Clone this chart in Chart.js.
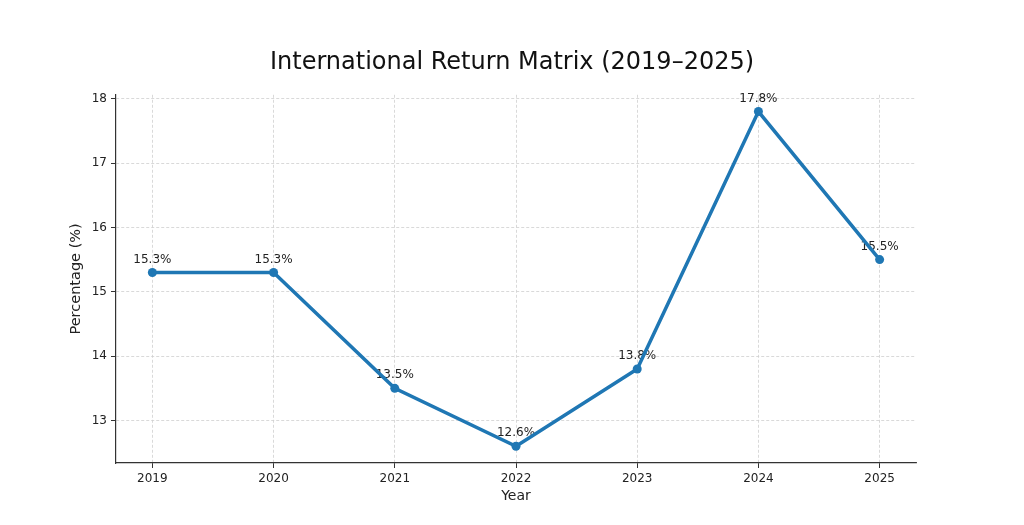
<!DOCTYPE html>
<html>
<head>
<meta charset="utf-8">
<script src="https://cdn.jsdelivr.net/npm/chart.js@4/dist/chart.umd.min.js"></script>
<style>
html,body{margin:0;padding:0;background:#fff;}
#wrap{width:1024px;height:525px;}
</style>
</head>
<body>
<div id="wrap"><canvas id="c" width="1024" height="525"></canvas></div>
<script>
const years = [2019, 2020, 2021, 2022, 2023, 2024, 2025];
const returns = [15.3, 15.3, 13.5, 12.6, 13.8, 17.8, 15.5];
const yTickValues = [13, 14, 15, 16, 17, 18];
const titleText = 'International Return Matrix (2019–2025)';
const xLabel = 'Year';
const yLabel = 'Percentage (%)';

const FONT = '"DejaVu Sans", sans-serif';

const labelPlugin = {
  id: 'pointLabels',
  beforeDatasetsDraw(chart) {
    const ctx = chart.ctx;
    const meta = chart.getDatasetMeta(0);
    ctx.save();
    ctx.font = '12px ' + FONT;
    ctx.fillStyle = '#222';
    ctx.textAlign = 'center';
    ctx.textBaseline = 'middle';
    meta.data.forEach((pt, i) => {
      ctx.fillText(returns[i].toFixed(1) + '%', pt.x, pt.y - 13);
    });
    ctx.restore();
  }
};

new Chart(document.getElementById('c'), {
  type: 'line',
  data: {
    datasets: [{
      data: years.map((y, i) => ({x: y, y: returns[i]})),
      borderColor: '#1f77b4',
      backgroundColor: '#1f77b4',
      borderWidth: 3.5,
      pointRadius: 4.5,
      pointHoverRadius: 4.5,
      pointBackgroundColor: '#1f77b4',
      pointBorderWidth: 0,
      tension: 0,
      fill: false
    }]
  },
  options: {
    responsive: false,
    animation: false,
    events: [],
    layout: {padding: {left: 0, right: 0, top: 0, bottom: 0}},
    plugins: {
      legend: {display: false},
      tooltip: {enabled: false},
      title: {
        display: true,
        text: titleText,
        color: '#111',
        font: {family: FONT, size: 24, weight: 'normal', lineHeight: 1.2},
        padding: {top: 48, bottom: 18}
      }
    },
    scales: {
      x: {
        type: 'linear',
        min: 2018.7,
        max: 2025.3,
        afterBuildTicks: s => { s.ticks = years.map(v => ({value: v})); },
        afterFit: s => { s.height = 62; },
        ticks: {
          callback: v => String(v),
          color: '#222',
          font: {family: FONT, size: 12},
          padding: 4,
          maxRotation: 0,
          autoSkip: false
        },
        grid: {
          color: '#cfcfcf',
          lineWidth: 0.8,
          tickLength: 5,
          tickColor: '#333',
          tickWidth: 1,
          drawOnChartArea: true
        },
        border: {display: true, color: '#333', width: 1.2, dash: [3, 2]},
        title: {
          display: true,
          text: xLabel,
          color: '#222',
          font: {family: FONT, size: 14},
          padding: {top: 20, bottom: 20}
        }
      },
      y: {
        type: 'linear',
        min: 12.34,
        max: 18.06,
        afterBuildTicks: s => { s.ticks = yTickValues.map(v => ({value: v})); },
        afterFit: s => { s.width = 116; },
        ticks: {
          callback: v => String(v),
          color: '#222',
          font: {family: FONT, size: 12},
          padding: 4
        },
        grid: {
          color: '#cfcfcf',
          lineWidth: 0.8,
          tickLength: 5,
          tickColor: '#333',
          tickWidth: 1
        },
        border: {display: true, color: '#333', width: 1.2, dash: [3, 2]},
        title: {
          display: true,
          text: yLabel,
          color: '#222',
          font: {family: FONT, size: 14.5},
          padding: {top: 68, bottom: 68}
        }
      },
      yRight: {
        type: 'linear',
        position: 'right',
        min: 0,
        max: 1,
        afterFit: s => { s.width = 108; },
        ticks: {display: false},
        grid: {display: false, drawOnChartArea: false},
        border: {display: false}
      }
    }
  },
  plugins: [labelPlugin]
});
</script>
</body>
</html>
